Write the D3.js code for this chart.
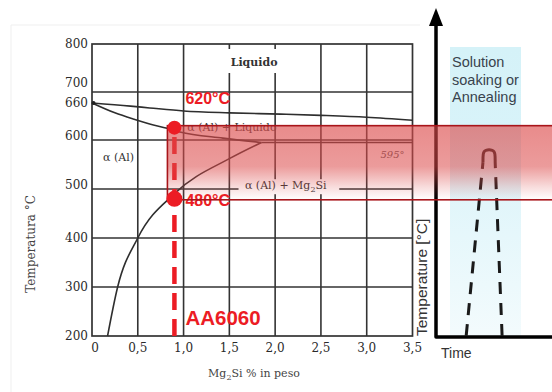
<!DOCTYPE html>
<html>
<head>
<meta charset="utf-8">
<script src="https://cdn.jsdelivr.net/npm/d3@7"></script>
<style>
  html, body { margin: 0; padding: 0; background: #fff; }
  svg { display: block; }
</style>
</head>
<body>
<div id="chart"></div>
<script>
// --- data ---
const tempTicks = [800, 700, 660, 600, 500, 400, 300, 200];
const tempGrid = [700, 600, 500, 400, 300];
const compTicks = [0, 0.5, 1.0, 1.5, 2.0, 2.5, 3.0, 3.5];
const compTickLabels = ["0", "0,5", "1,0", "1,5", "2,0", "2,5", "3,0", "3,5"];
const compGrid = [0.5, 1.0, 1.5, 2.0, 2.5, 3.0];

// liquidus (Mg2Si %, °C)
const liquidusComp = [0, 0.42, 0.63, 1.0, 1.5, 2.06, 2.5, 3.0, 3.5];
const liquidusTemp = [660, 655, 652, 647, 644, 642, 640, 637, 632];
// solidus
const solidusComp = [0, 0.25, 0.45, 0.63, 0.82, 0.96, 1.43, 1.85];
const solidusTemp = [660, 644, 634, 626, 619, 613, 603, 595];
// eutectic line
const eutecticComp = [1.85, 3.5];
const eutecticTemp = [595, 595];
// solvus
const solvusComp = [0.17, 0.28, 0.5, 0.91, 1.51, 1.85];
const solvusTemp = [200, 300, 400, 492, 563, 595];

// AA6060 window
const alloyComp = 0.9;
const alloyHigh = 620;
const alloyLow = 480;

// heat-treatment profile (time units arbitrary, °C)
const legLeftTime = [2.6, 4.05];
const legLeftTemp = [200, 555];
const legRightTime = [5.7, 5.1];
const legRightTemp = [200, 555];
const capTime = [4.05, 4.05, 4.2, 4.95, 5.1, 5.1];
const capTemp = [555, 573, 580, 580, 573, 555];

const width = 552;
const height = 392;

const svg = d3.select("#chart")
  .append("svg")
  .attr("width", width)
  .attr("height", height);

const x = d3.scaleLinear().domain([0, 3.5]).range([92, 412.5]);
// the scanned diagram squeezes 660 up towards 700
const y = d3.scaleLinear().domain([200, 600, 660, 700, 800]).range([336, 140, 103, 92, 44]);
const t = d3.scaleLinear().domain([0, 10]).range([436, 552]);

const defs = svg.append("defs");
const redFade = defs.append("linearGradient")
  .attr("id", "redFade").attr("x1", 0).attr("y1", 0).attr("x2", 0).attr("y2", 1);
redFade.append("stop").attr("offset", "0%").attr("stop-color", "#dc4a4a").attr("stop-opacity", 0.64);
redFade.append("stop").attr("offset", "55%").attr("stop-color", "#dc4a4a").attr("stop-opacity", 0.55);
redFade.append("stop").attr("offset", "82%").attr("stop-color", "#dc4a4a").attr("stop-opacity", 0.2);
redFade.append("stop").attr("offset", "100%").attr("stop-color", "#dc4a4a").attr("stop-opacity", 0.0);

const cyanFade = defs.append("linearGradient")
  .attr("id", "cyanFade").attr("x1", 0).attr("y1", 0).attr("x2", 0).attr("y2", 1);
cyanFade.append("stop").attr("offset", "0%").attr("stop-color", "#d5f2f8");
cyanFade.append("stop").attr("offset", "30%").attr("stop-color", "#d8f3f9");
cyanFade.append("stop").attr("offset", "100%").attr("stop-color", "#f3fbfd");

// faint scan border
svg.append("path")
  .attr("d", "M11,392V25H420")
  .attr("fill", "none")
  .attr("stroke", "#efefef")
  .attr("stroke-width", 1);

// cyan soaking band
svg.append("rect")
  .attr("x", 450).attr("y", 47)
  .attr("width", 71).attr("height", y(200) - 47)
  .attr("fill", "url(#cyanFade)");

// ---- phase diagram ----
const ink = "#333";
const grid = svg.append("g");

grid.selectAll(".hgrid")
  .data(tempGrid)
  .join("line")
  .attr("x1", x(0)).attr("x2", x(3.5))
  .attr("y1", d => y(d)).attr("y2", d => y(d))
  .attr("stroke", ink).attr("stroke-width", 1.6);

grid.selectAll(".vgrid")
  .data(compGrid)
  .join("line")
  .attr("x1", d => x(d)).attr("x2", d => x(d))
  .attr("y1", y(800)).attr("y2", y(200))
  .attr("stroke", ink).attr("stroke-width", 1.6);

grid.append("rect")
  .attr("x", x(0)).attr("y", y(800))
  .attr("width", x(3.5) - x(0)).attr("height", y(200) - y(800))
  .attr("fill", "none").attr("stroke", ink).attr("stroke-width", 1.7);

// tick labels
const serif = "'DejaVu Serif', 'Liberation Serif', serif";
svg.append("g")
  .selectAll("text")
  .data(tempTicks)
  .join("text")
  .attr("x", 88)
  .attr("y", d => y(d) + (d === 700 ? -9 : d === 600 || d === 500 ? -4 : 0))
  .attr("dy", "0.35em")
  .attr("text-anchor", "end")
  .attr("font-family", serif)
  .attr("font-size", 12)
  .attr("fill", "#2a2a2a")
  .text(d => d);

svg.append("g")
  .selectAll("text")
  .data(compTicks)
  .join("text")
  .attr("x", d => x(d) + (d === 0 ? 3 : 0))
  .attr("y", 352)
  .attr("text-anchor", "middle")
  .attr("font-family", serif)
  .attr("font-size", 12)
  .attr("fill", "#2a2a2a")
  .text((d, i) => compTickLabels[i]);

// axis titles
svg.append("text")
  .attr("transform", "translate(35,244) rotate(-90)")
  .attr("text-anchor", "middle")
  .attr("font-family", serif)
  .attr("font-size", 12)
  .attr("fill", "#444")
  .text("Temperatura °C");

const xTitle = svg.append("text")
  .attr("x", 254).attr("y", 377)
  .attr("text-anchor", "middle")
  .attr("font-family", serif)
  .attr("font-size", 11)
  .attr("fill", "#444");
xTitle.append("tspan").text("Mg");
xTitle.append("tspan").attr("font-size", 8).attr("dy", 3).text("2");
xTitle.append("tspan").attr("dy", -3).text("Si % in peso");

// label backgrounds (cut the grid like the scan does)
svg.append("rect")
  .attr("x", x(1.47)).attr("y", 49).attr("width", x(2.07) - x(1.47)).attr("height", 24)
  .attr("fill", "#fff");
svg.append("rect")
  .attr("x", x(1.6)).attr("y", y(520)).attr("width", x(2.7) - x(1.6)).attr("height", 15)
  .attr("fill", "#fff");

// curves
const line = d3.line()
  .x(d => x(d[0]))
  .y(d => y(d[1]))
  .curve(d3.curveMonotoneX);

const curves = [
  d3.zip(liquidusComp, liquidusTemp),
  d3.zip(solidusComp, solidusTemp),
  d3.zip(eutecticComp, eutecticTemp),
  d3.zip(solvusComp, solvusTemp)
];
svg.append("g")
  .selectAll("path")
  .data(curves)
  .join("path")
  .attr("d", line)
  .attr("fill", "none")
  .attr("stroke", "#2e2e2e")
  .attr("stroke-width", 1.6);

svg.append("circle")
  .attr("cx", x(0) + 1.5).attr("cy", y(660)).attr("r", 2)
  .attr("fill", "#222");

// phase labels
const phase = svg.append("g")
  .attr("font-family", serif)
  .attr("font-size", 11)
  .attr("fill", "#333");

phase.append("text").attr("x", x(1.77)).attr("y", y(754)).attr("text-anchor", "middle")
  .attr("font-weight", "bold").text("Liquido");
phase.append("text").attr("x", x(0.12)).attr("y", y(557)).text("α (Al)");
phase.append("text").attr("x", x(1.04)).attr("y", y(615)).text("α (Al) + Liquido");
const mgLabel = phase.append("text").attr("x", x(1.67)).attr("y", y(501));
mgLabel.append("tspan").text("α (Al) + Mg");
mgLabel.append("tspan").attr("font-size", 8).attr("dy", 3).text("2");
mgLabel.append("tspan").attr("dy", -3).text("Si");
phase.append("text").attr("x", x(3.15)).attr("y", y(563))
  .attr("font-size", 10).attr("font-style", "italic").attr("fill", "#555").text("595°");

// ---- right panel: temperature vs time sketch ----
const axisG = svg.append("g");
axisG.append("path")
  .attr("d", `M${t(0)},22 V${y(200) + 1} H${width + 5}`)
  .attr("fill", "none")
  .attr("stroke", "#000")
  .attr("stroke-width", 3.5)
  .attr("stroke-linejoin", "round");
axisG.append("path")
  .attr("d", `M${t(0) - 7},26 L${t(0)},8 L${t(0) + 7},26 Z`)
  .attr("fill", "#000");

const sans = "'Liberation Sans', Arial, sans-serif";
svg.append("text")
  .attr("x", 441).attr("y", 358)
  .attr("font-family", sans).attr("font-size", 14).attr("fill", "#333")
  .text("Time");

svg.append("text")
  .attr("transform", `translate(427,${y(200)}) rotate(-90)`)
  .attr("font-family", sans).attr("font-size", 15.5).attr("fill", "#333")
  .text("Temperature [°C]");

const note = svg.append("text")
  .attr("font-family", sans).attr("font-size", 14.5).attr("fill", "#39434d");
["Solution", "soaking or", "Annealing"].forEach((s, i) => {
  note.append("tspan").attr("x", 452).attr("y", 67 + i * 17.5).text(s);
});

const tline = d3.line().x(d => t(d[0])).y(d => y(d[1]));
svg.append("g")
  .selectAll("path")
  .data([d3.zip(legLeftTime, legLeftTemp), d3.zip(legRightTime, legRightTemp)])
  .join("path")
  .attr("d", tline)
  .attr("fill", "none")
  .attr("stroke", "#1a1a1a")
  .attr("stroke-width", 3)
  .attr("stroke-dasharray", "12,9");
svg.append("path")
  .attr("d", tline.curve(d3.curveBasis)(d3.zip(capTime, capTemp)))
  .attr("fill", "none")
  .attr("stroke", "#1a1a1a")
  .attr("stroke-width", 3);

// ---- AA6060 overlay ----
const red = "#ec1c24";
svg.append("line")
  .attr("x1", x(alloyComp)).attr("x2", x(alloyComp))
  .attr("y1", y(200)).attr("y2", y(alloyHigh))
  .attr("stroke", red)
  .attr("stroke-width", 4.5)
  .attr("stroke-dasharray", "17,9");

const redText = svg.append("g")
  .attr("font-family", sans)
  .attr("font-weight", "bold")
  .attr("fill", red);
redText.append("text").attr("x", x(alloyComp) + 11).attr("y", y(alloyHigh) - 24)
  .attr("font-size", 16).text("620°C");
redText.append("text").attr("x", x(alloyComp) + 11).attr("y", y(alloyLow) + 7)
  .attr("font-size", 16).text("480°C");
redText.append("text").attr("x", x(alloyComp) + 11).attr("y", 325)
  .attr("font-size", 20.5).text("AA6060");

svg.append("rect")
  .attr("x", x(alloyComp) - 7)
  .attr("y", y(alloyHigh) - 2)
  .attr("width", width)
  .attr("height", y(alloyLow) - y(alloyHigh) + 3)
  .attr("fill", "url(#redFade)")
  .attr("stroke", "#a8151a")
  .attr("stroke-width", 1.6);

svg.append("g")
  .selectAll("circle")
  .data([alloyHigh, alloyLow])
  .join("circle")
  .attr("cx", x(alloyComp))
  .attr("cy", d => y(d))
  .attr("r", (d, i) => i === 0 ? 7 : 8)
  .attr("fill", red);
</script>
</body>
</html>
